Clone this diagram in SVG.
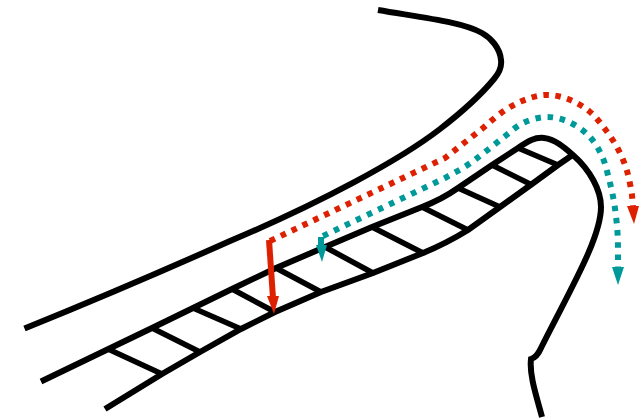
<svg xmlns="http://www.w3.org/2000/svg" width="642" height="420" viewBox="0 0 642 420">
  <style>
    .wall { fill: none; stroke: #000; stroke-width: 6; }
    .rung { fill: none; stroke: #000; stroke-width: 5.5; }
    .red { fill: none; stroke: #dd2000; stroke-width: 6; stroke-dasharray: 5.5 6.5; }
    .teal { fill: none; stroke: #009999; stroke-width: 6; stroke-dasharray: 5.5 6.7; }
  </style>
  <rect width="642" height="420" fill="#fff"/>
  <g id="outer-wall">
    <path class="wall" d="M24.500 328.500 C100 298 165 270 230 241 C320 203 400 160 440 129 C462 112 480 96 494 79 C499 73 502 67 501 60 C500 48 491 38 482 33 C462 22 425 18 378 10"/>
  </g>
  <g id="ladder">
    <path class="wall" d="M41 381.500 L152 328 L232 289 L276 268 L325 247 L372 227 L422 207 C435 202 448 195 458 188 L492 165 L518 148 C528 141 535 137 544 138 C555 139 565 148 573 155 C590 170 601 190 601 207 C601 238 570 290 541 348 C538 355 534 358 531 359 C529 375 537 398 542 417"/>
    <path class="wall" d="M105 409 L162 374 L200 352 L241 329 L275 312 L321 292 L373 273 L423 253 C440 246 455 238 468 230 L500 207 L532 184 L558 165 L574 154"/>
    <path class="rung" d="M108 349 L162 374 M152 328 L200 352 M193 308 L241 329 M232 289 L275 312 M276 268 L321 292 M325 247 L373 273 M372 227 L423 253 M422 207 L468 230 M458 188 L500 207 M492 165 L532 185 M518 148 L558 165"/>
  </g>
  <g id="connectors">
    <path class="red" d="M270 241 L445 158 L464 143 C470.3 138 476.8 133 483 128 C489.2 123 494.5 117.5 501 113 C507.5 108.5 514.7 104 522 101 C529.3 98 537.3 95.3 545 95 C552.7 94.7 560.7 96.3 568 99 C575.3 101.7 582.8 106 589 111 C595.2 116 600.2 122.7 605 129 C609.8 135.3 614.3 142 618 149 C621.7 156 624.7 163.3 627 171 C629.3 178.700 631 189 632 195 L633 207"/>
    <path fill="#dd2000" d="M627 206 L639 206 L634 224Z"/>
    <path class="teal" d="M323 236 L445 178 C452 174 459.3 170.3 466 166 C472.7 161.7 478.7 156.8 485 152 C491.3 147.2 497.7 141.8 504 137 C510.3 132.2 516 126.3 523 123 C530 119.7 538.3 117.2 546 117 C553.7 116.8 561.8 118.8 569 122 C576.2 125.2 583.5 130.3 589 136 C594.5 141.7 598.7 148.8 602 156 C605.3 163.2 607 171.3 609 179 C611 186.7 612.7 194.2 614 202 C615.3 209.8 616.3 218 617 226 C617.7 234 618 242 618 250 L618 268"/>
    <path fill="#009999" d="M612 267 L624 267 L618 285Z"/>
    <path fill="none" stroke="#009999" stroke-width="6" d="M321 237 L321 248"/>
    <path fill="#009999" d="M316 245 L327 245 L322 262Z"/>
    <path fill="none" stroke="#dd2000" stroke-width="6" d="M269 240 L273 298"/>
    <path fill="#dd2000" d="M267 296 L279 296 L274 314Z"/>
  </g>
</svg>
